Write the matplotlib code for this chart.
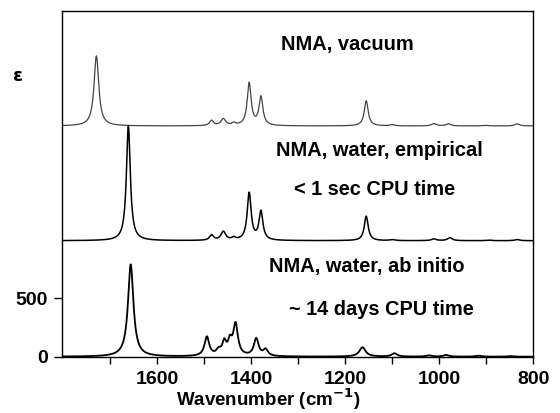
import numpy as np
import matplotlib
matplotlib.use('Agg')
import matplotlib.pyplot as plt

plt.rcParams['font.family'] = ['Liberation Sans', 'DejaVu Sans']
plt.rcParams['font.weight'] = 'bold'

#--band positions (cm-1), heights and half widths
vac_pos = [1729, 1484, 1459, 1437, 1404, 1379, 1155, 1100, 1011, 980, 902, 834]
vac_hgt = [600, 45, 58, 20, 365, 245, 215, 10, 20, 18, 5, 18]
vac_wid = [6, 5, 6, 5, 5, 5, 5, 6, 6, 6, 8, 6]

emp_pos = [1661, 1484, 1459, 1437, 1404, 1379, 1155, 1100, 1011, 977, 894, 834]
emp_hgt = [980, 45, 75, 20, 405, 245, 210, 8, 15, 25, 5, 10]
emp_wid = [5, 5, 6, 5, 5, 5, 5, 6, 6, 6, 6, 6]

abi_pos = [1656, 1494, 1469, 1457, 1445, 1433, 1389, 1369, 1163, 1095, 1022, 985, 916, 848]
abi_hgt = [790, 165, 45, 110, 110, 270, 150, 55, 80, 28, 10, 14, 8, 5]
abi_wid = [7, 6, 6, 5, 5, 6, 6, 6, 8, 7, 7, 7, 7, 7]

#--vertical offsets of the stacked spectra
offsets = [1975, 993, 0]
labels = ['NMA, vacuum', 'NMA, water, empirical', '< 1 sec CPU time',
          'NMA, water, ab initio', '~ 14 days CPU time']
label_x = [1195, 1126, 1137, 1154, 1122]
label_y = [2626, 1718, 1383, 728, 357]

#--axis ticks
xmajor = [1600, 1400, 1200, 1000, 800]
xminor = [1700, 1500, 1300, 1100, 900]
yticks = [0, 500]

wn = np.linspace(1803, 800, 3000)

def spectrum(pos, hgt, wid):
  s = np.zeros_like(wn)
  for p, h, g in zip(pos, hgt, wid):
    s = s + h/(1.0+((wn-p)/g)**2)
  return s

fig = plt.figure(figsize=(5.6, 4.13), dpi=100)
ax = fig.add_axes([0.110, 0.1363, 0.842, 0.8378])

ax.plot(wn, spectrum(vac_pos, vac_hgt, vac_wid)+offsets[0], c='#444444', lw=0.9)
ax.plot(wn, spectrum(emp_pos, emp_hgt, emp_wid)+offsets[1], c='black', lw=1.1)
ax.plot(wn, spectrum(abi_pos, abi_hgt, abi_wid)+offsets[2], c='black', lw=1.3)

for t, x, y in zip(labels, label_x, label_y):
  ax.text(x, y, t, ha='center', va='baseline', fontsize=14.4, fontweight='bold')

ax.set_xlim(1803, 800)
ax.set_ylim(0, 2962)
ax.set_xticks(xmajor)
ax.set_xticks(xminor, minor=True)
ax.set_yticks(yticks)
ax.tick_params(axis='x', which='major', direction='out', length=5, width=1,
               labelsize=14, pad=5)
ax.tick_params(axis='y', which='major', direction='out', length=6, width=1,
               labelsize=14, pad=4)
ax.tick_params(axis='x', which='minor', direction='out', length=5, width=1)
for lab in ax.get_xticklabels()+ax.get_yticklabels():
  lab.set_fontweight('bold')
for sp in ax.spines.values():
  sp.set_linewidth(1.0)

fig.text(268.5/560, 1-406/413, 'Wavenumber (cm$^{\\mathbf{-1}}$)', ha='center',
         va='baseline', fontsize=13.5, fontweight='bold')
fig.text(18/560, 1-76/413, '\u03b5', ha='center', va='center', fontsize=13,
         fontweight='bold', family=['DejaVu Sans'])

fig.savefig('out.png', dpi=100)
